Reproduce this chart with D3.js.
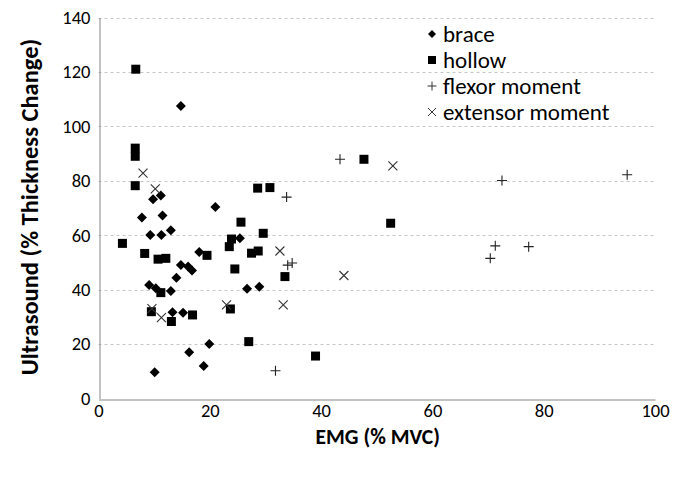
<!DOCTYPE html>
<html>
<head>
<meta charset="utf-8">
<script src="https://cdn.jsdelivr.net/npm/d3@7"></script>
<style>
  html, body { margin: 0; padding: 0; background: #fff; }
  svg { display: block; font-family: Carlito, Calibri, Lato, "Liberation Sans", sans-serif; }
</style>
</head>
<body>
<svg id="chart" width="688" height="478"></svg>
<script>
// ---- data ----
const braceX = [14.8, 11.2, 9.8, 21.0, 7.8, 11.5, 13.0, 9.3, 11.3, 18.1, 14.8, 16.1, 16.8, 14.0, 9.1, 10.3, 13.0, 25.4, 26.7, 28.9, 13.3, 15.2, 19.9, 16.3, 18.9, 10.1];
const braceY = [107.5, 74.6, 73.2, 70.4, 66.5, 67.2, 61.8, 60.1, 60.1, 53.8, 49.1, 48.5, 47.0, 44.4, 41.7, 40.5, 39.5, 58.9, 40.3, 41.1, 31.7, 31.5, 20.0, 17.0, 11.9, 9.6];

const hollowX = [6.7, 6.6, 6.6, 6.6, 4.3, 8.3, 10.7, 12.1, 19.5, 11.2, 9.5, 13.1, 16.9, 28.6, 30.8, 25.6, 29.6, 23.9, 23.5, 27.5, 28.7, 24.5, 33.5, 23.7, 27.0, 39.0, 47.7, 52.5];
const hollowY = [121.0, 92.0, 89.0, 78.2, 57.0, 53.3, 51.2, 51.5, 52.6, 38.9, 31.9, 28.3, 30.7, 77.3, 77.5, 64.8, 60.7, 58.6, 55.8, 53.4, 54.2, 47.6, 44.8, 32.9, 20.9, 15.6, 87.9, 64.4];

const flexorX = [33.8, 34.0, 34.8, 31.8, 43.4, 72.5, 95.0, 71.3, 70.4, 77.3];
const flexorY = [74.0, 49.0, 49.8, 10.2, 87.9, 80.1, 82.2, 56.1, 51.5, 55.8];

const extensorX = [8.0, 10.2, 9.6, 11.3, 23.0, 33.2, 32.6, 52.9, 44.1];
const extensorY = [82.8, 77.0, 33.0, 29.7, 34.4, 34.4, 54.2, 85.5, 45.2];

const seriesNames = ["brace", "hollow", "flexor moment", "extensor moment"];
const xTicks = [0, 20, 40, 60, 80, 100];
const yTicks = [0, 20, 40, 60, 80, 100, 120, 140];
const xTitle = "EMG (% MVC)";
const yTitle = "Ultrasound (% Thickness Change)";

// ---- layout ----
const svg = d3.select("#chart");
const L = 98.5, R = 655, T = 17.5, B = 398.5;
const x = d3.scaleLinear().domain([0, 100]).range([L, R]);
const y = d3.scaleLinear().domain([0, 140]).range([B, T]);

// gridlines
svg.append("g").selectAll("line").data(yTicks.filter(d => d > 0)).join("line")
  .attr("x1", L).attr("x2", R)
  .attr("y1", d => Math.round(y(d)) + 0.5).attr("y2", d => Math.round(y(d)) + 0.5)
  .attr("stroke", "#c6c6c6").attr("stroke-width", 1).attr("stroke-dasharray", "3,3");

// axes
const xAxis = d3.axisBottom(x).tickValues(xTicks).tickSize(0).tickPadding(4);
const yAxis = d3.axisLeft(y).tickValues(yTicks).tickSize(0).tickPadding(9);
const gx = svg.append("g").attr("transform", `translate(0,${Math.round(B) + 0.5})`).call(xAxis);
const gy = svg.append("g").attr("transform", `translate(${Math.round(L) + 0.5},0)`).call(yAxis);
[gx, gy].forEach(g => {
  g.select(".domain").attr("stroke", "#868686").attr("stroke-width", 1);
  g.selectAll("text").attr("font-size", 18.5).attr("fill", "#000")
    .attr("font-family", "Carlito, Calibri, Lato, sans-serif");
});

// markers
const diamond = s => `M0,${-s}L${s},0L0,${s}L${-s},0Z`;
const square = s => `M${-s},${-s}H${s}V${s}H${-s}Z`;
const plus = s => `M${-s},0H${s}M0,${-s}V${s}`;
const cross = s => `M${-s},${-s}L${s},${s}M${-s},${s}L${s},${-s}`;

function drawSeries(xs, ys, pathFn, size, filled, color) {
  svg.append("g").selectAll("path").data(xs.map((v, i) => [v, ys[i]])).join("path")
    .attr("transform", d => `translate(${x(d[0])},${y(d[1])})`)
    .attr("d", pathFn(size))
    .attr("fill", filled ? color : "none")
    .attr("stroke", filled ? "none" : color)
    .attr("stroke-width", filled ? 0 : 1.1);
}
drawSeries(braceX, braceY, diamond, 5, true, "#000");
drawSeries(hollowX, hollowY, square, 4.5, true, "#000");
drawSeries(flexorX, flexorY, plus, 5, false, "#222");
drawSeries(extensorX, extensorY, cross, 4.5, false, "#333");

// legend
const legendPaths = [[diamond, 4, true], [square, 4, true], [plus, 4.5, false], [cross, 4, false]];
const lg = svg.append("g");
seriesNames.forEach((name, i) => {
  const cy = 34 + i * 26;
  const [fn, s, filled] = legendPaths[i];
  lg.append("path").attr("transform", `translate(432,${cy})`).attr("d", fn(s))
    .attr("fill", filled ? "#000" : "none").attr("stroke", filled ? "none" : "#333").attr("stroke-width", 1);
  lg.append("text").attr("x", 443).attr("y", cy).attr("dy", "0.35em")
    .attr("font-size", 23).text(name);
});

// titles
svg.append("text").attr("x", (L + R) / 2 + 1).attr("y", 444)
  .attr("text-anchor", "middle").attr("font-size", 21.5).attr("font-weight", "bold").text(xTitle);
svg.append("text").attr("transform", `translate(38,${(T + B) / 2 - 1}) rotate(-90)`)
  .attr("text-anchor", "middle").attr("font-size", 24.5).attr("font-weight", "bold").text(yTitle);
</script>
</body>
</html>
